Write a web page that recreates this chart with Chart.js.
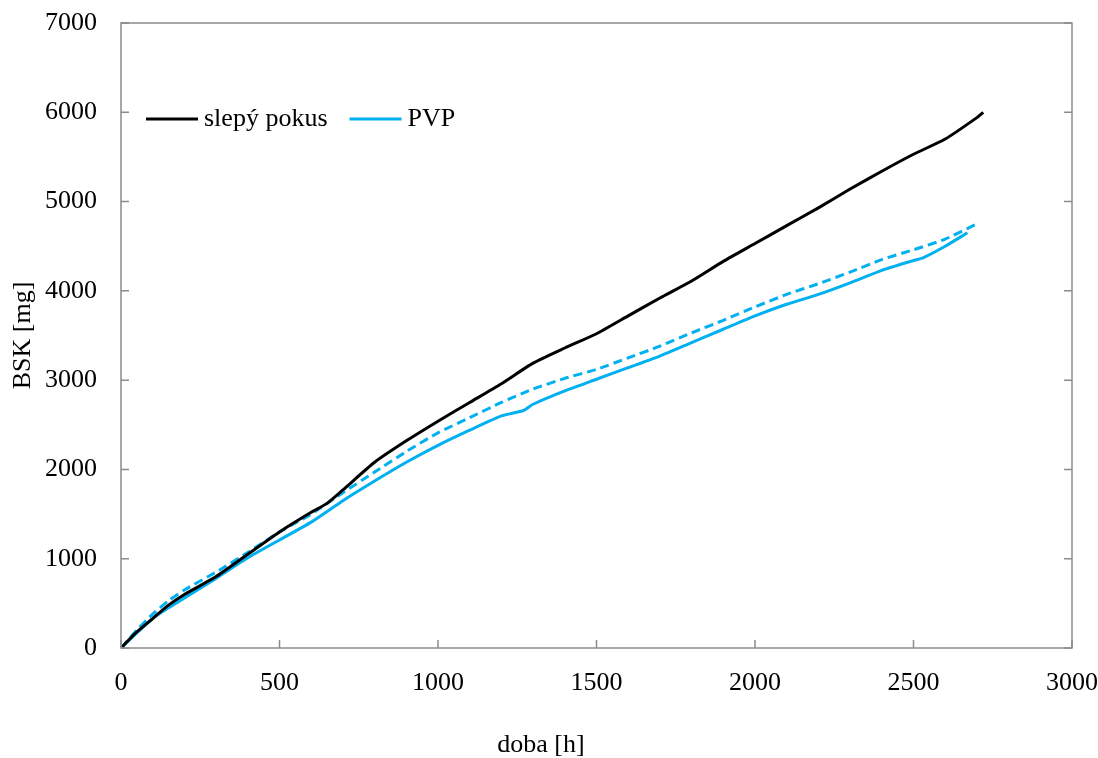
<!DOCTYPE html>
<html lang="cs">
<head>
    <meta charset="UTF-8">
    <title>BSK</title>
    <script src="https://cdn.jsdelivr.net/npm/chart.js"></script>
    <style>
        body { margin: 0; padding: 0; background: #fff; }
        #wrap { width: 1098px; height: 758px; }
    </style>
</head>
<body>
    <div id="wrap"><canvas id="bskChart" width="1098" height="758"></canvas></div>

    <script>
        // slepý pokus (black)
        const blankTime = [0, 50, 100, 150, 200, 300, 400, 500, 600, 650, 700, 800, 900, 1000, 1100, 1200, 1300, 1400, 1500, 1600, 1700, 1800, 1900, 2000, 2100, 2200, 2300, 2400, 2500, 2600, 2700, 2720];
        const blankBsk  = [0, 180, 330, 480, 600, 800, 1050, 1300, 1520, 1620, 1770, 2080, 2320, 2540, 2750, 2960, 3190, 3360, 3520, 3720, 3920, 4110, 4330, 4530, 4730, 4930, 5140, 5340, 5530, 5700, 5940, 6000];

        // PVP (solid cyan)
        const pvpTime = [0, 50, 100, 150, 200, 300, 400, 500, 600, 700, 800, 900, 1000, 1100, 1200, 1270, 1300, 1400, 1500, 1600, 1700, 1800, 1900, 2000, 2100, 2200, 2300, 2400, 2500, 2530, 2600, 2670];
        const pvpBsk  = [0, 170, 330, 450, 560, 780, 1010, 1210, 1410, 1650, 1870, 2080, 2270, 2440, 2600, 2660, 2730, 2880, 3010, 3140, 3270, 3420, 3570, 3720, 3850, 3960, 4090, 4230, 4340, 4370, 4500, 4650];

        // PVP second run (dashed cyan, not in legend)
        const pvp2Time = [0, 50, 100, 150, 200, 300, 400, 500, 600, 700, 800, 900, 1000, 1100, 1200, 1300, 1400, 1500, 1600, 1700, 1800, 1900, 2000, 2100, 2200, 2300, 2400, 2500, 2600, 2700];
        const pvp2Bsk  = [0, 200, 380, 530, 650, 850, 1070, 1300, 1500, 1740, 1970, 2200, 2410, 2580, 2750, 2900, 3020, 3120, 3250, 3380, 3530, 3670, 3820, 3960, 4080, 4210, 4350, 4460, 4580, 4750];

        const xTicks = [0, 500, 1000, 1500, 2000, 2500, 3000];
        const yTicks = [0, 1000, 2000, 3000, 4000, 5000, 6000, 7000];

        const FONT = '"Liberation Serif", "Times New Roman", serif';
        const FONT_SIZE = 26;
        const AXIS_GRAY = '#8c8c8c';
        const CYAN = '#00b0f0';

        function toPoints(xs, ys) {
            return xs.map((x, i) => ({ x: x, y: ys[i] }));
        }

        // box around the plot + inward tick marks
        const frame = {
            id: 'frame',
            afterDraw(chart) {
                const { ctx, chartArea: a } = chart;
                const xs = chart.scales.x, ys = chart.scales.y;
                ctx.save();
                ctx.strokeStyle = AXIS_GRAY;
                ctx.lineWidth = 1.5;
                ctx.strokeRect(a.left, a.top, a.right - a.left, a.bottom - a.top);
                ctx.beginPath();
                yTicks.forEach(v => {
                    const y = ys.getPixelForValue(v);
                    ctx.moveTo(a.left, y); ctx.lineTo(a.left + 8, y);
                    ctx.moveTo(a.right, y); ctx.lineTo(a.right - 8, y);
                });
                xTicks.forEach(v => {
                    const x = xs.getPixelForValue(v);
                    ctx.moveTo(x, a.bottom); ctx.lineTo(x, a.bottom - 8);
                });
                ctx.stroke();

                // x axis title, sits a bit left of center like the original
                ctx.fillStyle = '#000';
                ctx.font = FONT_SIZE + 'px ' + FONT;
                ctx.textAlign = 'center';
                ctx.textBaseline = 'middle';
                ctx.fillText('doba [h]', 541, 745);
                ctx.restore();
            }
        };

        // legend drawn inside the plot area
        const innerLegend = {
            id: 'innerLegend',
            afterDraw(chart) {
                const { ctx, chartArea: a } = chart;
                const y = a.top + 96;
                let x = a.left + 25;
                ctx.save();
                ctx.font = FONT_SIZE + 'px ' + FONT;
                ctx.textBaseline = 'middle';
                ctx.textAlign = 'left';
                chart.data.datasets.filter(ds => ds.showInLegend).forEach(ds => {
                    ctx.strokeStyle = ds.borderColor;
                    ctx.lineWidth = 3;
                    ctx.setLineDash([]);
                    ctx.beginPath();
                    ctx.moveTo(x, y); ctx.lineTo(x + 52, y);
                    ctx.stroke();
                    ctx.fillStyle = '#000';
                    ctx.fillText(ds.label, x + 58, y);
                    x += 58 + ctx.measureText(ds.label).width + 22;
                });
                ctx.restore();
            }
        };

        new Chart(document.getElementById('bskChart'), {
            type: 'scatter',
            data: {
                datasets: [
                    { label: 'slepý pokus', showInLegend: true, data: toPoints(blankTime, blankBsk), borderColor: '#000', borderWidth: 3, showLine: true, pointRadius: 0, tension: 0.2 },
                    { label: 'PVP', showInLegend: true, data: toPoints(pvpTime, pvpBsk), borderColor: CYAN, borderWidth: 3, showLine: true, pointRadius: 0, tension: 0.2 },
                    { label: 'PVP 2', showInLegend: false, data: toPoints(pvp2Time, pvp2Bsk), borderColor: CYAN, borderWidth: 3, borderDash: [9, 5], showLine: true, pointRadius: 0, tension: 0.2 }
                ]
            },
            options: {
                responsive: false,
                animation: false,
                layout: { padding: { top: 23, right: 26, bottom: 0, left: 0 } },
                plugins: { legend: { display: false }, tooltip: { enabled: false } },
                scales: {
                    x: {
                        type: 'linear', min: 0, max: 3000,
                        afterBuildTicks: s => { s.ticks = xTicks.map(v => ({ value: v })); },
                        afterFit: s => { s.height = 110; s.paddingLeft = 0; s.paddingRight = 0; },
                        grid: { display: false, drawTicks: false },
                        border: { display: false },
                        ticks: { color: '#000', font: { family: FONT, size: FONT_SIZE }, padding: 20, maxRotation: 0, callback: v => String(v) }
                    },
                    y: {
                        type: 'linear', min: 0, max: 7000,
                        afterBuildTicks: s => { s.ticks = yTicks.map(v => ({ value: v })); },
                        afterFit: s => { s.width = 121; s.paddingTop = 0; s.paddingBottom = 0; },
                        grid: { display: false, drawTicks: false },
                        border: { display: false },
                        ticks: { color: '#000', font: { family: FONT, size: FONT_SIZE }, padding: 24, callback: v => String(v) },
                        title: { display: true, text: 'BSK [mg]', color: '#000', font: { family: FONT, size: FONT_SIZE }, padding: { top: 8, bottom: 0 } }
                    }
                }
            },
            plugins: [frame, innerLegend]
        });
    </script>
</body>
</html>
